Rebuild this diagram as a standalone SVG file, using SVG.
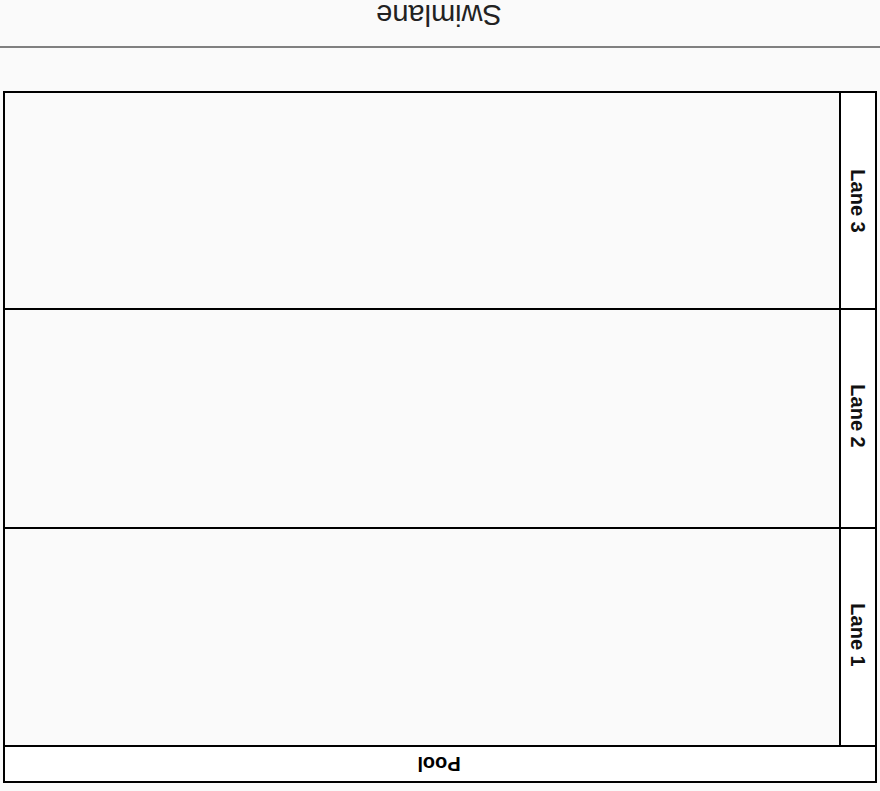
<svg xmlns="http://www.w3.org/2000/svg" width="880" height="791" viewBox="0 0 880 791">
  <style>
    .box { stroke: #000; stroke-width: 2; }
    .lane { fill: #fafafa; }
    .strip { fill: #ffffff; }
    .lbl { font-family: "Liberation Sans", Arial, sans-serif; font-size: 20px; font-weight: bold; fill: #111; text-anchor: middle; dominant-baseline: central; }
    .pool { font-family: "Liberation Sans", Arial, sans-serif; font-size: 20px; font-weight: bold; fill: #000; text-anchor: middle; dominant-baseline: central; }
    .title { font-family: "Liberation Sans", Arial, sans-serif; font-size: 29px; fill: #222; text-anchor: middle; dominant-baseline: central; }
  </style>
  <rect x="0" y="0" width="880" height="791" fill="#fafafa"/>
  <g id="title">
    <text class="title" transform="translate(439 15) rotate(180)">Swimlane</text>
    <line x1="0" y1="47" x2="880" y2="47" stroke="#808080" stroke-width="2"/>
  </g>
  <g id="pool">
    <rect class="box strip" x="4" y="92" width="872" height="690"/>
    <text class="pool" transform="translate(439 764) rotate(180)">Pool</text>
  </g>
  <g id="lane3">
    <rect class="box lane" x="4" y="92" width="836" height="217"/>
    <rect class="box strip" x="840" y="92" width="36" height="217"/>
    <text class="lbl" transform="translate(858 201) rotate(90)">Lane 3</text>
  </g>
  <g id="lane2">
    <rect class="box lane" x="4" y="309" width="836" height="219"/>
    <rect class="box strip" x="840" y="309" width="36" height="219"/>
    <text class="lbl" transform="translate(858 416) rotate(90)">Lane 2</text>
  </g>
  <g id="lane1">
    <rect class="box lane" x="4" y="528" width="836" height="218"/>
    <rect class="box strip" x="840" y="528" width="36" height="218"/>
    <text class="lbl" transform="translate(858 635) rotate(90)">Lane 1</text>
  </g>
  <g id="connectors"/>
</svg>
